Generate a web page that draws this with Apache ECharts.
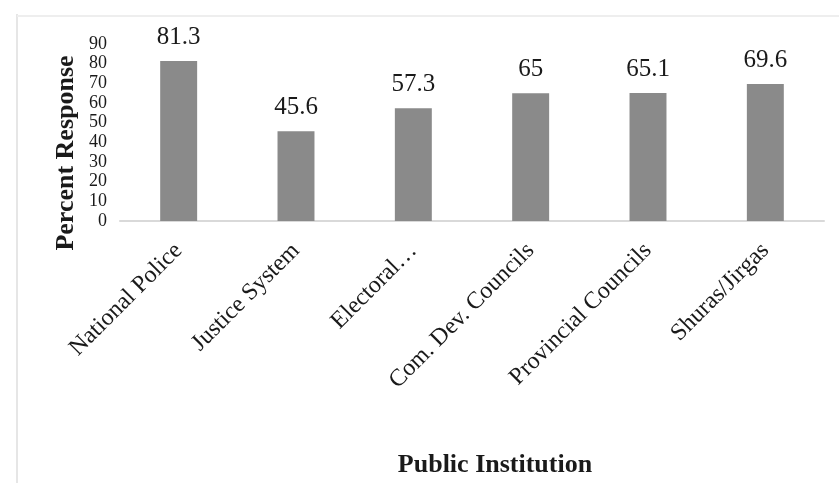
<!DOCTYPE html>
<html>
<head>
<meta charset="utf-8">
<script src="https://cdn.jsdelivr.net/npm/echarts@6/dist/echarts.min.js"></script>
<style>
  html, body { margin: 0; padding: 0; background: #ffffff; }
  #chart { width: 839px; height: 483px; }
</style>
</head>
<body>
<div id="chart"></div>
<script>
// Share of respondents expressing confidence, by public institution
const institutions = [
  'National Police',
  'Justice System',
  'Electoral…',
  'Com. Dev. Councils',
  'Provincial Councils',
  'Shuras/Jirgas'
];
const percentResponse = [81.3, 45.6, 57.3, 65, 65.1, 69.6];
const yTicks = [0, 10, 20, 30, 40, 50, 60, 70, 80, 90];

const serif = '"Liberation Serif", "Times New Roman", serif';

const chart = echarts.init(document.getElementById('chart'), null, { renderer: 'canvas' });

chart.setOption({
  backgroundColor: '#ffffff',
  animation: false,
  grid: { left: 120, right: 15, top: 44, bottom: 262, containLabel: false },
  xAxis: {
    type: 'category',
    data: institutions,
    axisLine: { show: true, lineStyle: { color: '#d9d9d9', width: 2 } },
    axisTick: { show: false },
    axisLabel: {
      rotate: 45,
      margin: 26,
      interval: 0,
      fontFamily: serif,
      fontSize: 24,
      color: '#1a1a1a'
    }
  },
  yAxis: {
    type: 'value',
    min: yTicks[0],
    max: yTicks[yTicks.length - 1],
    interval: yTicks[1] - yTicks[0],
    axisLine: { show: false },
    axisTick: { show: false },
    splitLine: { show: false },
    axisLabel: {
      margin: 13,
      fontFamily: serif,
      fontSize: 18,
      color: '#1a1a1a'
    }
  },
  series: [{
    type: 'bar',
    data: percentResponse,
    barWidth: '31.5%',
    itemStyle: { color: '#8a8a8a' },
    label: {
      show: true,
      position: 'top',
      distance: 11,
      fontFamily: serif,
      fontSize: 25,
      color: '#1a1a1a'
    }
  }],
  graphic: [
    // faint frame edges
    { type: 'line', shape: { x1: 17, y1: 14, x2: 17, y2: 483 }, style: { stroke: '#e6e6e6', lineWidth: 2 } },
    { type: 'line', shape: { x1: 17, y1: 16, x2: 839, y2: 16 }, style: { stroke: '#eeeeee', lineWidth: 2 } },
    {
      type: 'text',
      x: 66, y: 153,
      rotation: Math.PI / 2,
      style: {
        text: 'Percent Response',
        font: 'bold 26px ' + serif,
        fill: '#1a1a1a',
        align: 'center',
        verticalAlign: 'middle'
      }
    },
    {
      type: 'text',
      x: 495, y: 465,
      style: {
        text: 'Public Institution',
        font: 'bold 26px ' + serif,
        fill: '#1a1a1a',
        align: 'center',
        verticalAlign: 'middle'
      }
    }
  ]
});
</script>
</body>
</html>
